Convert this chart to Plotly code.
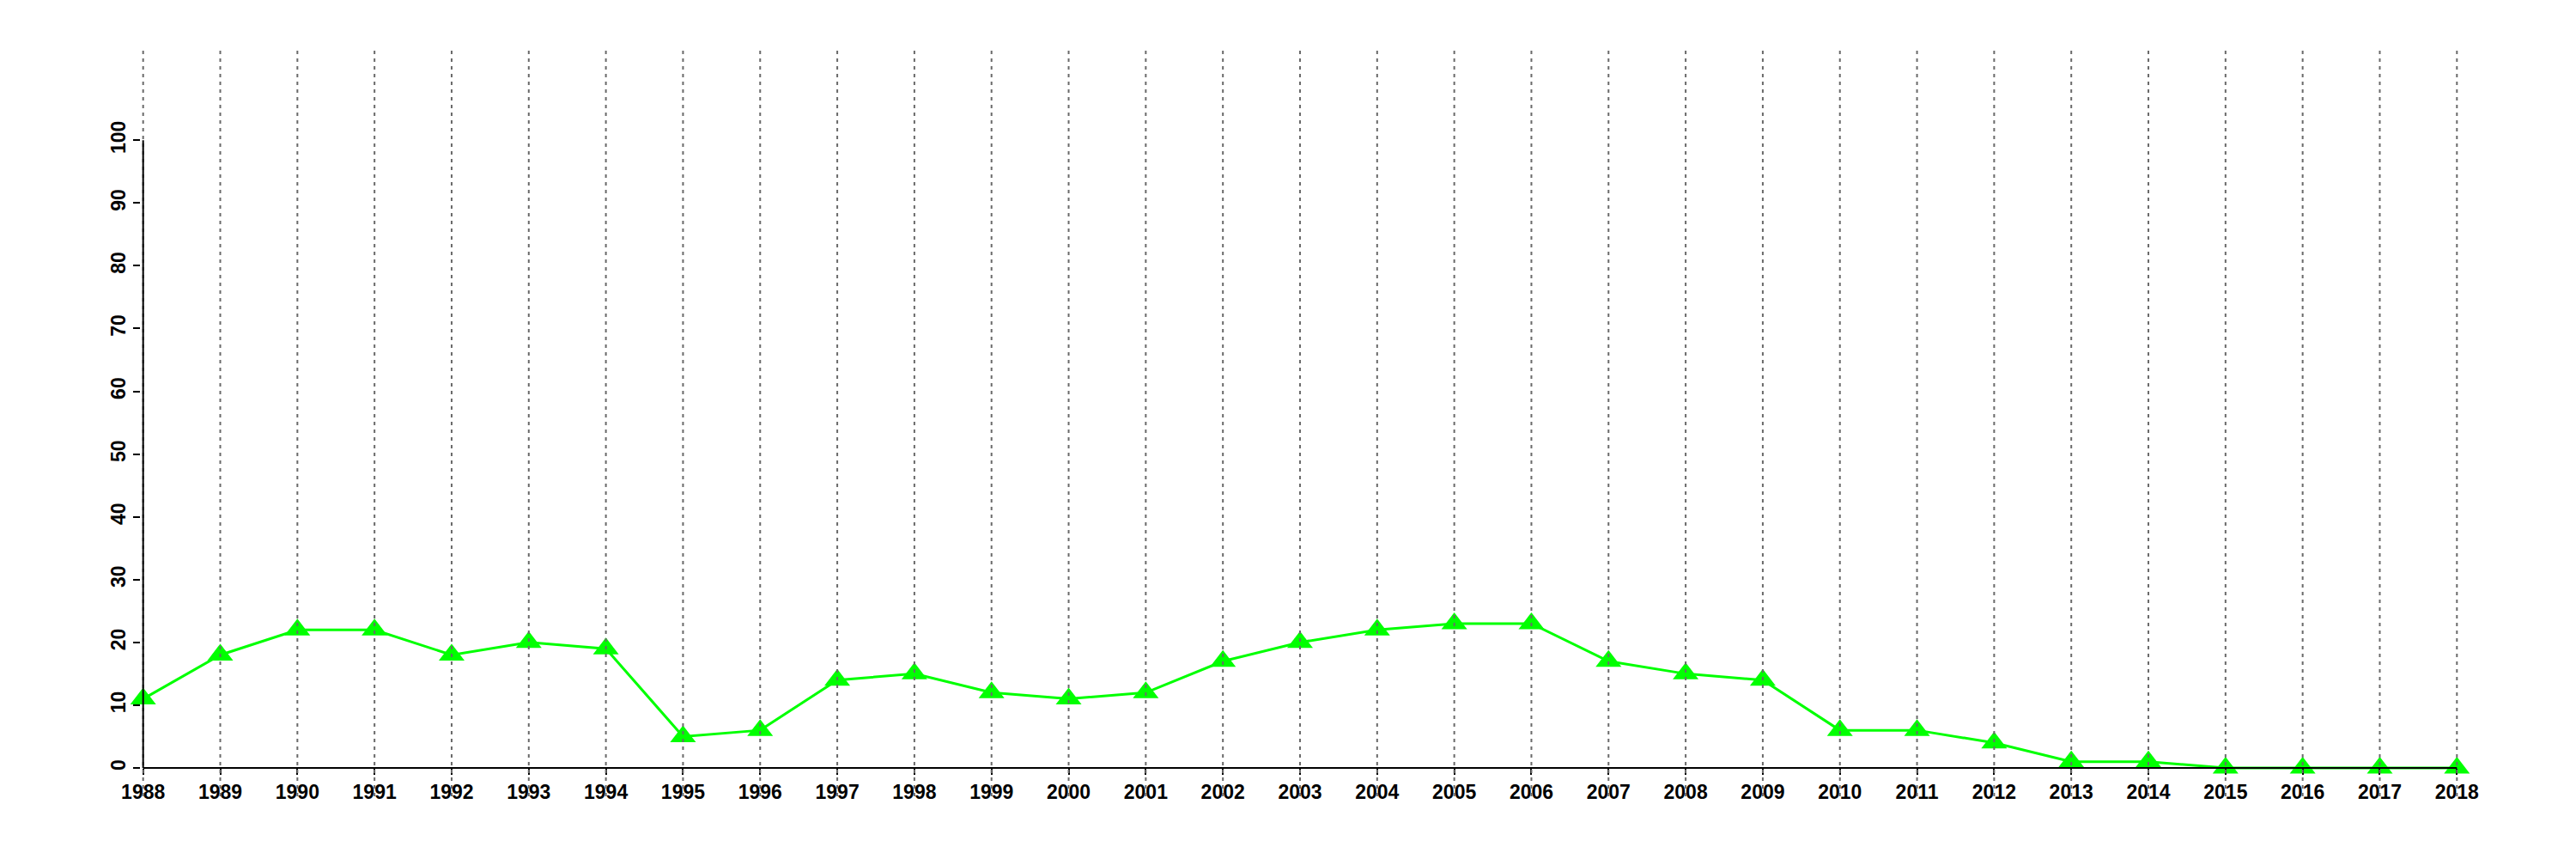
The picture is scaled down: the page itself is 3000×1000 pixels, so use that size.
import plotly.graph_objects as go

years = list(range(1988, 2019))
values = [11, 18, 22, 22, 18, 20, 19, 5, 6, 14, 15, 12, 11, 12, 17, 20, 22, 23, 23,
          17, 15, 14, 6, 6, 4, 1, 1, 0, 0, 0, 0]
y_ticks = list(range(0, 101, 10))

y_min, y_max = -4.52, 114.27
pad_years = 0.03  # tiny range padding so edge gridlines are not clipped
px_per_year = (2861.7 - 166.7) / 30

fig = go.Figure()
fig.add_trace(go.Scatter(
    x=years, y=values, mode="lines+markers",
    line=dict(color="#00FF00", width=3),
    marker=dict(symbol="triangle-up", size=26, color="#00FF00"),
    cliponaxis=False, showlegend=False,
))

font = dict(family="Liberation Sans", size=23, color="black", weight="bold")

grid_shapes = [dict(type="line", xref="x", yref="paper", x0=yr, x1=yr, y0=0, y1=1,
                    layer="above", line=dict(color="#6a6a6a", width=2, dash="4px,5px"))
               for yr in years]
axis_shape = dict(type="line", xref="x", yref="y",
                  x0=years[0], x1=years[0], y0=y_ticks[0], y1=y_ticks[-1],
                  layer="above", line=dict(color="black", width=2))
xaxis_shape = dict(type="line", xref="x", yref="y",
                   x0=years[0], x1=years[-1], y0=0, y1=0,
                   layer="above", line=dict(color="black", width=2))

pad_px = pad_years * px_per_year
fig.update_layout(
    width=3000, height=1000,
    margin=dict(l=158.7 - pad_px, r=146.3 - pad_px, t=51, b=81, pad=0),
    plot_bgcolor="white", paper_bgcolor="white",
    xaxis=dict(
        range=[years[0] - pad_years, years[-1] + pad_years],
        tickvals=years, ticktext=[str(y) for y in years],
        showgrid=False, showline=False,
        ticks="outside", ticklen=7, tickwidth=2, tickcolor="black",
        tickfont=font, zeroline=False,
        anchor="free", position=(0 - y_min) / (y_max - y_min),
    ),
    yaxis=dict(
        range=[y_min, y_max],
        tickvals=y_ticks, ticktext=[str(v) for v in y_ticks],
        showgrid=False, zeroline=False, showline=False,
        ticks="outside", ticklen=8, tickwidth=2, tickcolor="black",
        tickfont=font, tickangle=-90,
    ),
    shapes=grid_shapes + [axis_shape, xaxis_shape],
)

fig.write_html("out.html")
